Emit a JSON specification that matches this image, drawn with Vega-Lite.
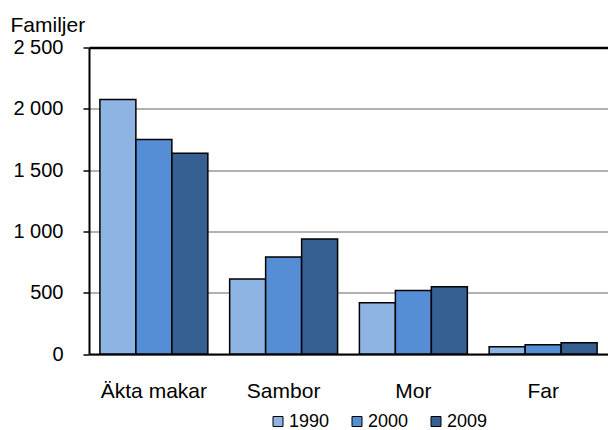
{
  "$schema": "https://vega.github.io/schema/vega-lite/v6.json",
  "width": 519,
  "height": 306.5,
  "autosize": {"type": "none"},
  "padding": {"left": 89, "top": 47.5, "right": 0, "bottom": 76},
  "background": "white",
  "config": {
    "view": {"stroke": null},
    "font": "Liberation Sans",
    "axis": {"labelFont": "Liberation Sans", "titleFont": "Liberation Sans", "labelColor": "black", "titleColor": "black"},
    "legend": {"labelFont": "Liberation Sans"}
  },
  "data": {
    "values": [
      {"typ": "Äkta makar", "år": "1990", "familjer": 2075},
      {"typ": "Äkta makar", "år": "2000", "familjer": 1750},
      {"typ": "Äkta makar", "år": "2009", "familjer": 1638},
      {"typ": "Sambor", "år": "1990", "familjer": 612},
      {"typ": "Sambor", "år": "2000", "familjer": 792},
      {"typ": "Sambor", "år": "2009", "familjer": 939},
      {"typ": "Mor", "år": "1990", "familjer": 419},
      {"typ": "Mor", "år": "2000", "familjer": 517},
      {"typ": "Mor", "år": "2009", "familjer": 549},
      {"typ": "Far", "år": "1990", "familjer": 60},
      {"typ": "Far", "år": "2000", "familjer": 76},
      {"typ": "Far", "år": "2009", "familjer": 92}
    ]
  },
  "mark": {"type": "bar", "stroke": "black", "strokeWidth": 1.5},
  "encoding": {
    "x": {
      "field": "typ",
      "type": "nominal",
      "sort": ["Äkta makar", "Sambor", "Mor", "Far"],
      "scale": {"paddingInner": 0.168, "paddingOuter": 0.084},
      "axis": {
        "title": null,
        "labelAngle": 0,
        "ticks": false,
        "domainColor": "black",
        "domainWidth": 2,
        "labelFontSize": 21,
        "labelBaseline": "alphabetic",
        "labelPadding": 43,
        "grid": false
      }
    },
    "xOffset": {
      "field": "år",
      "type": "nominal",
      "scale": {"paddingInner": 0, "paddingOuter": 0}
    },
    "y": {
      "field": "familjer",
      "type": "quantitative",
      "scale": {"domain": [0, 2500], "nice": false},
      "axis": {
        "title": "Familjer",
        "titleAngle": 0,
        "titleAlign": "left",
        "titleBaseline": "alphabetic",
        "titleX": -79,
        "titleY": -15.8,
        "titleFontSize": 21,
        "titleFontWeight": "normal",
        "values": [0, 500, 1000, 1500, 2000, 2500],
        "labelExpr": "replace(format(datum.value, ','), ',', ' ')",
        "labelFontSize": 20,
        "labelPadding": 20,
        "labelBaseline": "middle",
        "tickSize": 6,
        "tickColor": "black",
        "tickWidth": 1.5,
        "domainColor": "black",
        "domainWidth": 2,
        "grid": true,
        "gridColor": {"condition": {"test": "datum.value == 2500", "value": "black"}, "value": "#999999"},
        "gridWidth": {"condition": {"test": "datum.value == 2500", "value": 2.5}, "value": 1.5}
      }
    },
    "fill": {
      "field": "år",
      "type": "nominal",
      "scale": {"domain": ["1990", "2000", "2009"], "range": ["#8DB4E3", "#558ED5", "#376092"]},
      "legend": {
        "title": null,
        "orient": "none",
        "direction": "horizontal",
        "legendX": 180,
        "legendY": 365,
        "symbolType": "square",
        "symbolSize": 100,
        "symbolStrokeColor": "black",
        "symbolStrokeWidth": 1,
        "labelFontSize": 18,
        "labelOffset": 2,
        "columnPadding": 18
      }
    }
  }
}
